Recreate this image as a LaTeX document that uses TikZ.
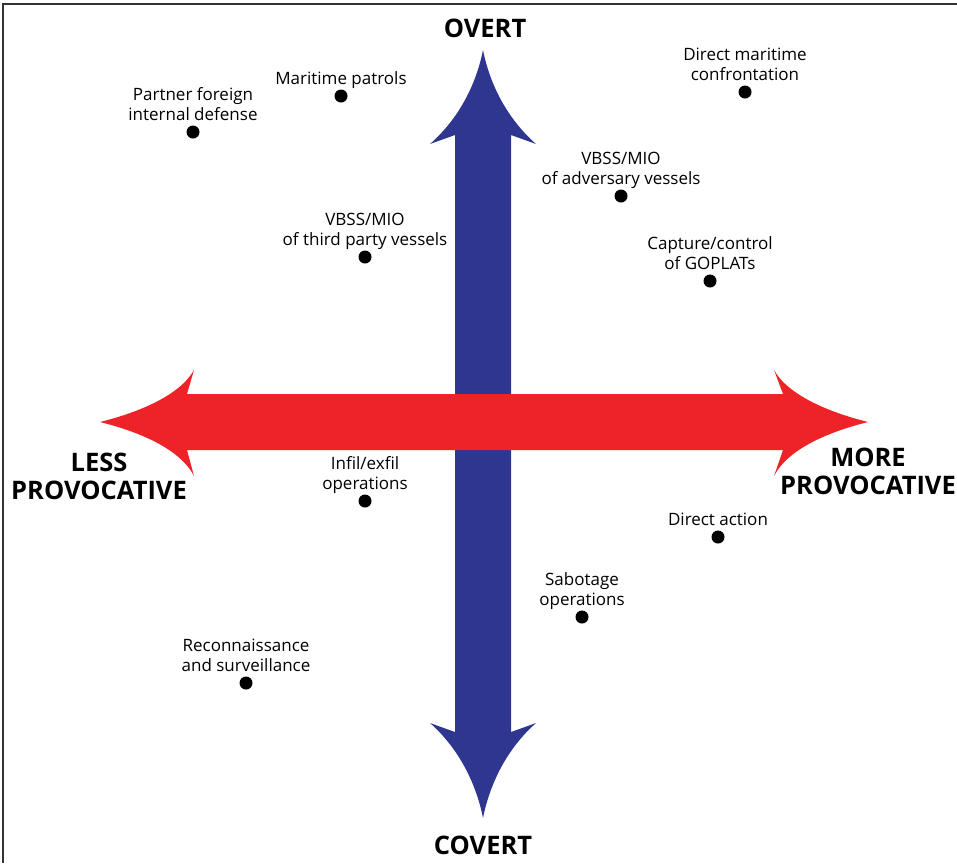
\documentclass[tikz,border=0pt]{standalone}
\usepackage{fontspec}
\setmainfont{Open Sans}
\usetikzlibrary{positioning}
\definecolor{arrowred}{RGB}{238,35,39}
\definecolor{arrowblue}{RGB}{46,54,143}
\begin{document}
\begin{tikzpicture}[x=1pt,y=-1pt,
    evdot/.style={circle,fill=black,inner sep=0pt,minimum size=13pt},
    evlbl/.style={align=center,inner sep=0pt,text depth=0pt,font=\fontsize{17}{20}\selectfont},
    axislbl/.style={align=center,inner sep=0pt,font=\fontsize{25.5}{28}\selectfont\bfseries}]
    \useasboundingbox (0,0) rectangle (957,863);
    \draw [line width=1.5pt,black!80] (3,863) -- (3,4) -- (957,4);
    \fill [arrowblue] (455,135) -- (430,144) .. controls (455,122) and (475,90) .. (483,50)
      .. controls (491,90) and (511,122) .. (536,144) -- (511,135) -- (511,732) -- (536,723)
      .. controls (511,745) and (491,778) .. (483,818) .. controls (475,778) and (455,745) .. (430,723)
      -- (455,732) -- cycle;
    \fill [arrowred] (187,394) -- (194,370) .. controls (180,395) and (140,412) .. (100,422)
      .. controls (140,432) and (180,449) .. (194,476) -- (187,450) -- (783,450) -- (774,476)
      .. controls (788,449) and (828,432) .. (868,422) .. controls (828,412) and (788,395) .. (774,370)
      -- (783,394) -- cycle;
    \node [axislbl] (overt) at (485,28) {OVERT};
    \node [axislbl] (covert) at (483,845) {COVERT};
    \node [axislbl] (less) at (99,476) {LESS\\PROVOCATIVE};
    \node [axislbl] (more) at (868,471) {MORE\\PROVOCATIVE};
    \node [evdot] (pfid) at (193,132) {};
    \node [evlbl,above=5pt of pfid] (pfidtxt) {Partner foreign\\internal defense};
    \node [evdot] (patrol) at (341,96) {};
    \node [evlbl,above=5pt of patrol] (patroltxt) {Maritime patrols};
    \node [evdot] (vbsstp) at (365,257) {};
    \node [evlbl,above=5pt of vbsstp] (vbsstptxt) {VBSS/MIO\\of third party vessels};
    \node [evdot] (confront) at (745,92) {};
    \node [evlbl,above=5pt of confront] (confronttxt) {Direct maritime\\confrontation};
    \node [evdot] (vbssadv) at (621,196) {};
    \node [evlbl,above=5pt of vbssadv] (vbssadvtxt) {VBSS/MIO\\of adversary vessels};
    \node [evdot] (goplat) at (710,281) {};
    \node [evlbl,above=5pt of goplat] (goplattxt) {Capture/control\\of GOPLATs};
    \node [evdot] (infil) at (365,501) {};
    \node [evlbl,above=5pt of infil] (infiltxt) {Infil/exfil\\operations};
    \node [evdot] (recce) at (246,683) {};
    \node [evlbl,above=5pt of recce] (reccetxt) {Reconnaissance\\and surveillance};
    \node [evdot] (action) at (718,537) {};
    \node [evlbl,above=5pt of action] (actiontxt) {Direct action};
    \node [evdot] (sabot) at (582,617) {};
    \node [evlbl,above=5pt of sabot] (sabottxt) {Sabotage\\operations};
  \end{tikzpicture}
\end{document}
